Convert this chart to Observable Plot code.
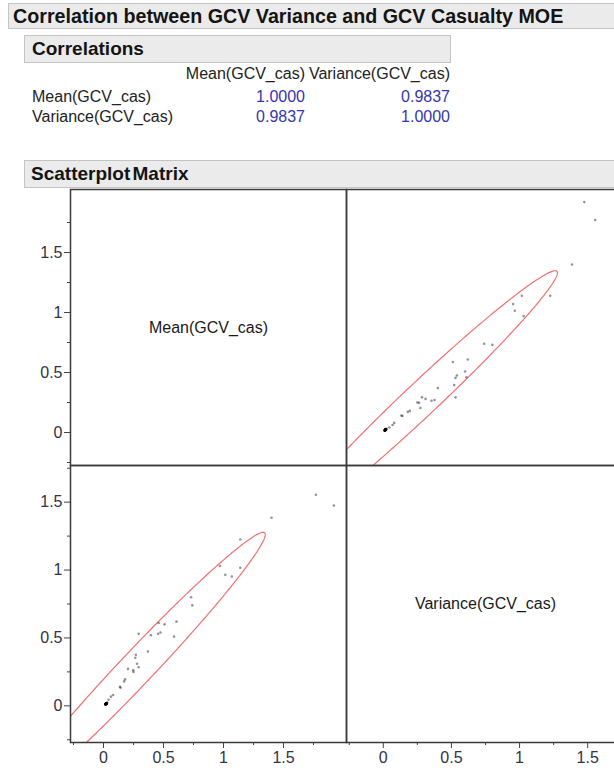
<!DOCTYPE html>
<html><head><meta charset="utf-8">
<script src="https://cdn.jsdelivr.net/npm/d3@7"></script>
<script src="https://cdn.jsdelivr.net/npm/@observablehq/plot@0.6"></script>
<style>
html,body{margin:0;padding:0;width:614px;height:771px;overflow:hidden;background:#fff;font-family:"Liberation Sans",Arial,sans-serif;}
.bar{position:absolute;background:#ebebeb;border:1px solid #c4c4c4;box-sizing:border-box;font-weight:bold;color:#141414;white-space:nowrap;}
.tx{position:absolute;font-size:16px;color:#222;white-space:nowrap;line-height:18px;}
.val{color:#3535b0;}
.cell{position:absolute;}
</style></head><body>
<div class="bar" style="left:8px;top:3px;width:620px;height:26px;font-size:19.7px;line-height:24px;padding-left:4px">Correlation between GCV Variance and GCV Casualty MOE</div>
<div class="bar" style="left:24px;top:35px;width:427px;height:28px;font-size:19px;line-height:26px;padding-left:7px">Correlations</div>
<div id="table"></div>
<div class="bar" style="left:24px;top:160px;width:600px;height:28px;font-size:19px;line-height:26px;padding-left:6px;word-spacing:-3px">Scatterplot Matrix</div>
<div id="matrix"></div>
<script>
// ---- data ----
const corrLabels = ["Mean(GCV_cas)", "Variance(GCV_cas)"];
const corrRow1 = [1.0000, 0.9837];
const corrRow2 = [0.9837, 1.0000];

const meanVals = [1.77,1.92,1.40,1.14,0.97,1.015,1.07,1.14,0.73,0.74,
  0.293,0.395,0.46,0.508,0.455,0.475,0.608,0.588,
  0.37,0.265,0.27,0.28,0.293,0.247,0.25,0.204,
  0.18,0.172,0.137,0.142,0.08,0.062,0.042,
  0.03,0.025,0.018,0.022,0.02,0.015,0.028,0.024,0.019,0.021,0.017,0.026,0.023,0.016,
  0.02,0.022,0.018,0.025,0.021,0.019,0.024,0.02,0.023,0.017,0.027,0.022,0.02,
  0.021,0.019,0.023,0.018,0.022,0.02,0.024,0.019];
const varVals = [1.555,1.475,1.385,1.225,1.03,0.965,0.953,1.017,0.80,0.74,
  0.53,0.52,0.61,0.60,0.53,0.54,0.62,0.51,
  0.40,0.354,0.376,0.31,0.284,0.262,0.25,0.272,
  0.195,0.18,0.14,0.133,0.08,0.068,0.045,
  0.025,0.018,0.01,0.015,0.012,0.01,0.02,0.016,0.013,0.014,0.011,0.019,0.017,0.012,
  0.015,0.013,0.014,0.016,0.017,0.012,0.014,0.016,0.013,0.013,0.018,0.016,0.014,
  0.015,0.013,0.016,0.012,0.014,0.015,0.017,0.013];

const majorTicks = [0, 0.5, 1, 1.5];
const minorTicks = [-0.25, 0.25, 0.75, 1.25, 1.75];

// ---- correlation table ----
const tbl = document.getElementById("table");
function addText(txt, x, y, align, cls){
  const d = document.createElement("div");
  d.className = "tx" + (cls ? " " + cls : "");
  d.textContent = txt;
  d.style.top = (y - 9) + "px";
  if (align === "right") { d.style.right = (614 - x) + "px"; } else { d.style.left = x + "px"; }
  tbl.appendChild(d);
}
const colRight = [305, 450];
corrLabels.forEach((l, i) => addText(l, colRight[i], 74, "right"));
[corrRow1, corrRow2].forEach((row, r) => {
  addText(corrLabels[r], 32, 97 + r * 20, "left");
  row.forEach((v, c) => addText(v.toFixed(4), colRight[c], 97 + r * 20, "right", "val"));
});

// ---- scatterplot matrix ----
const vars = [
  {name: corrLabels[0], values: meanVals, domain: [-0.275, 2.025]},
  {name: corrLabels[1], values: varVals, domain: [-0.27, 1.77]}
];
const colX = [70, 346], colW = [276, 278];
const rowY = [189, 465], rowH = [276, 277];

// 95% bivariate-normal density ellipse from the data, using the reported correlation
function ellipse(xs, ys, r){
  const mx = d3.mean(xs), my = d3.mean(ys);
  const sx = d3.deviation(xs), sy = d3.deviation(ys);
  const k = Math.sqrt(5.991);
  return d3.range(0, 361).map(a => {
    const t = a * Math.PI / 180;
    return {x: mx + k * sx * Math.cos(t), y: my + k * sy * (r * Math.cos(t) + Math.sqrt(1 - r * r) * Math.sin(t))};
  });
}

const matrix = document.getElementById("matrix");
for (let ri = 0; ri < 2; ri++) for (let ci = 0; ci < 2; ci++) {
  const xv = vars[ci], yv = vars[ri];
  const ml = ci === 0 ? 70 : 0, mb = ri === 1 ? 29 : 0;
  const marks = [];
  if (ri === ci) {
    marks.push(Plot.text([yv.name], {frameAnchor: "middle", text: d => d, fontSize: 16, fill: "#1a1a1a"}));
  } else {
    marks.push(Plot.line(ellipse(xv.values, yv.values, corrRow1[1]), {x: "x", y: "y", stroke: "#f07070", strokeWidth: 1.2, clip: true}));
    marks.push(Plot.dot(d3.range(xv.values.length), {x: i => xv.values[i], y: i => yv.values[i], r: 1.3, fill: "#000", fillOpacity: 0.42, stroke: "none", clip: true}));
  }
  if (ci === 0) {
    marks.push(Plot.axisY({ticks: majorTicks, tickSize: 6, tickPadding: 2, tickFormat: d => String(d), label: null, stroke: "#444", fill: "#333344"}));
    marks.push(Plot.axisY({ticks: minorTicks, tickSize: 3, tickFormat: () => "", label: null, stroke: "#444"}));
  }
  if (ri === 1) {
    marks.push(Plot.axisX({ticks: majorTicks, tickSize: 6, tickPadding: 3, tickFormat: d => String(d), label: null, stroke: "#444", fill: "#333344"}));
    marks.push(Plot.axisX({ticks: minorTicks, tickSize: 3, tickFormat: () => "", label: null, stroke: "#444"}));
  }
  marks.push(Plot.frame({stroke: "#3a3a3a", strokeWidth: 1.5}));
  const p = Plot.plot({
    width: colW[ci] + ml, height: rowH[ri] + mb,
    marginLeft: ml, marginRight: 0, marginTop: 0, marginBottom: mb,
    x: {domain: xv.domain, axis: ri === 1 ? undefined : null},
    y: {domain: yv.domain, axis: ci === 0 ? undefined : null},
    style: {fontSize: "16px", fontFamily: "Liberation Sans, Arial, sans-serif", overflow: "visible", background: "transparent", color: "#333344"},
    marks
  });
  p.classList.add("cell");
  p.style.left = (colX[ci] - ml) + "px";
  p.style.top = rowY[ri] + "px";
  matrix.appendChild(p);
}
</script>
</body></html>
